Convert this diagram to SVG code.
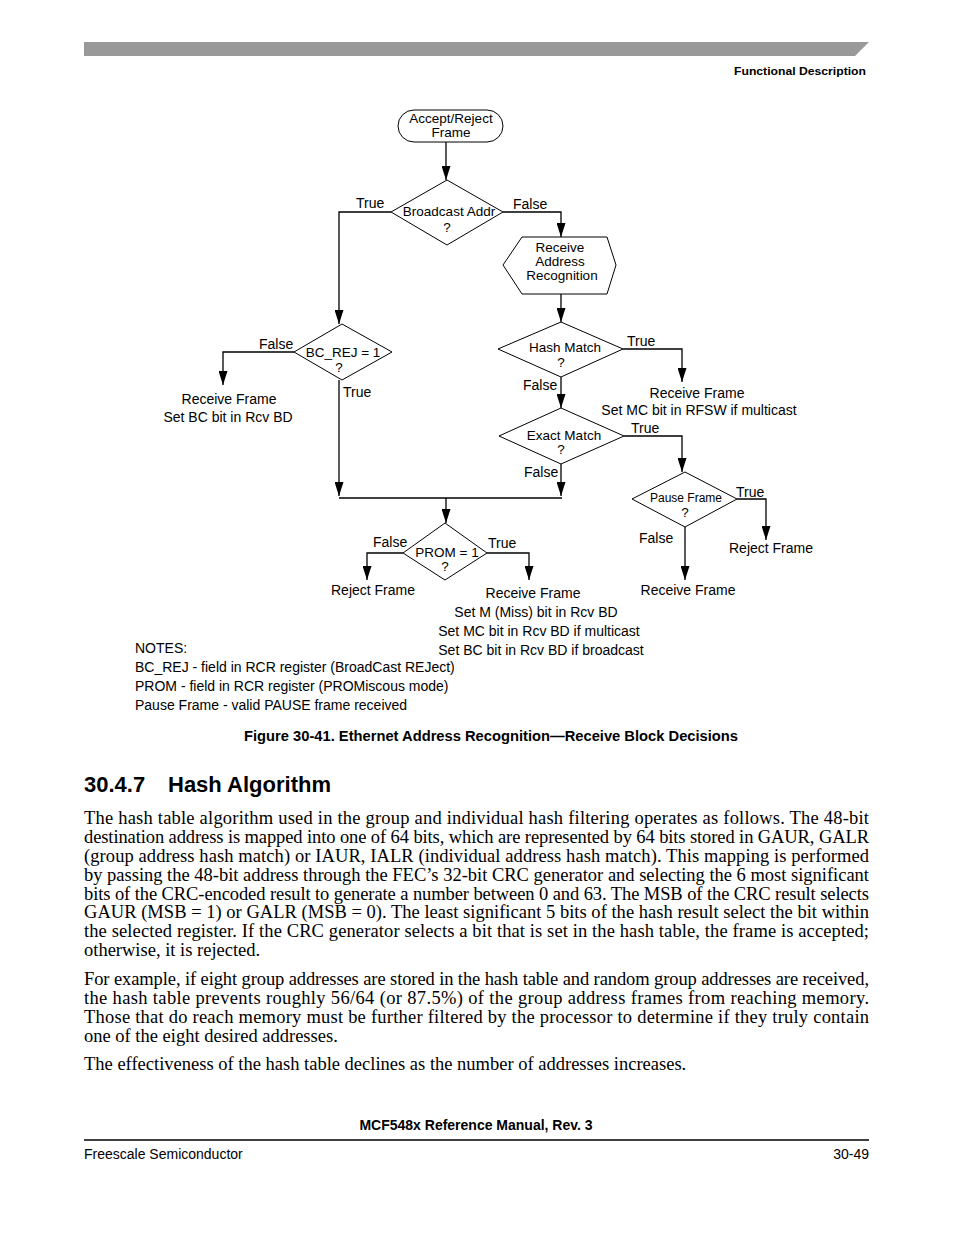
<svg xmlns="http://www.w3.org/2000/svg" width="954" height="1235" viewBox="0 0 954 1235">
<style>
.t{font-family:"Liberation Sans",Arial,sans-serif;font-size:14px;fill:#000}
.c{text-anchor:middle}
.s{font-size:12px}
.d{font-size:13.5px}
.sh{fill:#fff;stroke:#000;stroke-width:1}
.ln{fill:none;stroke:#000;stroke-width:1.3}
.b{font-family:"Liberation Serif","Times New Roman",serif;font-size:18.5px;fill:#000}
.h{font-family:"Liberation Sans",Arial,sans-serif;font-weight:bold;fill:#000}
</style>
<defs>
<marker id="ar" viewBox="0 0 14 9" refX="14" refY="4.5" markerWidth="14" markerHeight="9" markerUnits="userSpaceOnUse" orient="auto">
<path d="M0,0 L14,4.5 L0,9 z" fill="#000"/>
</marker>
</defs>
<rect width="954" height="1235" fill="#fff"/>
<g id="header">
<polygon points="84,42 869,42 855,56 84,56" fill="#999"/>
<text class="h" x="866" y="75" text-anchor="end" font-size="11" textLength="132" lengthAdjust="spacingAndGlyphs">Functional Description</text>
</g>
<g id="connectors">
<line class="ln" x1="446" y1="142" x2="446" y2="180" marker-end="url(#ar)"/>
<polyline class="ln" points="391,212 339,212 339,324" marker-end="url(#ar)"/>
<polyline class="ln" points="503,212 561,212 561,237" marker-end="url(#ar)"/>
<line class="ln" x1="561" y1="294" x2="561" y2="322" marker-end="url(#ar)"/>
<polyline class="ln" points="623,349 682,349 682,382" marker-end="url(#ar)"/>
<line class="ln" x1="561" y1="377" x2="561" y2="408" marker-end="url(#ar)"/>
<polyline class="ln" points="624,436 682,436 682,472" marker-end="url(#ar)"/>
<line class="ln" x1="561" y1="464" x2="561" y2="496" marker-end="url(#ar)"/>
<polyline class="ln" points="294,352 223,352 223,385" marker-end="url(#ar)"/>
<line class="ln" x1="339" y1="380" x2="339" y2="496" marker-end="url(#ar)"/>
<line class="ln" x1="339" y1="498" x2="562" y2="498"/>
<line class="ln" x1="446" y1="498" x2="446" y2="523" marker-end="url(#ar)"/>
<polyline class="ln" points="403,553 367,553 367,580" marker-end="url(#ar)"/>
<polyline class="ln" points="487,553 529,553 529,580" marker-end="url(#ar)"/>
<polyline class="ln" points="737,499 766,499 766,540" marker-end="url(#ar)"/>
<line class="ln" x1="685" y1="527" x2="685" y2="580" marker-end="url(#ar)"/>
</g>
<g id="start">
<rect class="sh" x="398" y="110" width="105" height="32" rx="16"/>
<text class="t c d" x="451" y="123">Accept/Reject</text>
<text class="t c d" x="451" y="137">Frame</text>
</g>
<g id="broadcast">
<polygon class="sh" points="447,180 503,212 447,245 391,212"/>
<text class="t c d" x="449" y="216">Broadcast Addr</text>
<text class="t c d" x="447" y="232">?</text>
<text class="t" x="356" y="208">True</text>
<text class="t" x="513" y="209">False</text>
</g>
<g id="recognition">
<polygon class="sh" points="522,237 607,237 616,265 607,294 522,294 503,265"/>
<text class="t c d" x="560" y="252">Receive</text>
<text class="t c d" x="560" y="266">Address</text>
<text class="t c d" x="562" y="280">Recognition</text>
</g>
<g id="hashmatch">
<polygon class="sh" points="561,322 623,349 561,377 498,349"/>
<text class="t c d" x="565" y="352">Hash Match</text>
<text class="t c d" x="561" y="367">?</text>
<text class="t" x="627" y="346">True</text>
<text class="t" x="523" y="390">False</text>
<text class="t c" x="697" y="398">Receive Frame</text>
<text class="t c" x="699" y="415">Set MC bit in RFSW if multicast</text>
</g>
<g id="exactmatch">
<polygon class="sh" points="561,408 624,436 561,464 499,436"/>
<text class="t c d" x="564" y="439.5">Exact Match</text>
<text class="t c d" x="561" y="454">?</text>
<text class="t" x="631" y="433">True</text>
<text class="t" x="524" y="477">False</text>
</g>
<g id="pause">
<polygon class="sh" points="685,472 737,499 685,527 632,499"/>
<text class="t c s" x="686" y="502">Pause Frame</text>
<text class="t c d" x="685" y="517">?</text>
<text class="t" x="736" y="497">True</text>
<text class="t" x="639" y="543">False</text>
<text class="t c" x="771" y="553">Reject Frame</text>
<text class="t c" x="688" y="595">Receive Frame</text>
</g>
<g id="bcrej">
<polygon class="sh" points="342,324 392,352 342,380 294,352"/>
<text class="t c d" x="343" y="356.5">BC_REJ = 1</text>
<text class="t c d" x="339" y="372">?</text>
<text class="t" x="259" y="349">False</text>
<text class="t" x="343" y="397">True</text>
<text class="t c" x="229" y="404">Receive Frame</text>
<text class="t c" x="228" y="422">Set BC bit in Rcv BD</text>
</g>
<g id="prom">
<polygon class="sh" points="445,523 487,553 445,580 403,553"/>
<text class="t c d" x="447" y="556.5">PROM = 1</text>
<text class="t c d" x="445" y="571">?</text>
<text class="t" x="373" y="547">False</text>
<text class="t" x="488" y="548">True</text>
<text class="t c" x="373" y="595">Reject Frame</text>
<text class="t c" x="533" y="598">Receive Frame</text>
<text class="t c" x="536" y="617">Set M (Miss) bit in Rcv BD</text>
<text class="t c" x="539" y="636">Set MC bit in Rcv BD if multicast</text>
<text class="t c" x="541" y="655">Set BC bit in Rcv BD if broadcast</text>
</g>
<g id="notes">
<text class="t" x="135" y="653">NOTES:</text>
<text class="t" x="135" y="672">BC_REJ - field in RCR register (BroadCast REJect)</text>
<text class="t" x="135" y="691">PROM - field in RCR register (PROMiscous mode)</text>
<text class="t" x="135" y="710">Pause Frame - valid PAUSE frame received</text>
</g>
<g id="caption">
<text class="h" x="491" y="741" font-size="14.5" text-anchor="middle" textLength="494" lengthAdjust="spacingAndGlyphs">Figure 30-41. Ethernet Address Recognition—Receive Block Decisions</text>
<text class="h" x="84" y="792" font-size="22">30.4.7</text>
<text class="h" x="168" y="792" font-size="22">Hash Algorithm</text>
</g>
<g id="body">
<text class="b" x="84" y="824" textLength="785" lengthAdjust="spacing">The hash table algorithm used in the group and individual hash filtering operates as follows. The 48-bit</text>
<text class="b" x="84" y="843" textLength="785" lengthAdjust="spacing">destination address is mapped into one of 64 bits, which are represented by 64 bits stored in GAUR, GALR</text>
<text class="b" x="84" y="862" textLength="785" lengthAdjust="spacing">(group address hash match) or IAUR, IALR (individual address hash match). This mapping is performed</text>
<text class="b" x="84" y="881" textLength="785" lengthAdjust="spacing">by passing the 48-bit address through the FEC’s 32-bit CRC generator and selecting the 6 most significant</text>
<text class="b" x="84" y="900" textLength="785" lengthAdjust="spacing">bits of the CRC-encoded result to generate a number between 0 and 63. The MSB of the CRC result selects</text>
<text class="b" x="84" y="918" textLength="785" lengthAdjust="spacing">GAUR (MSB = 1) or GALR (MSB = 0). The least significant 5 bits of the hash result select the bit within</text>
<text class="b" x="84" y="937" textLength="785" lengthAdjust="spacing">the selected register. If the CRC generator selects a bit that is set in the hash table, the frame is accepted;</text>
<text class="b" x="84" y="956">otherwise, it is rejected.</text>
<text class="b" x="84" y="985" textLength="785" lengthAdjust="spacing">For example, if eight group addresses are stored in the hash table and random group addresses are received,</text>
<text class="b" x="84" y="1004" textLength="785" lengthAdjust="spacing">the hash table prevents roughly 56/64 (or 87.5%) of the group address frames from reaching memory.</text>
<text class="b" x="84" y="1023" textLength="785" lengthAdjust="spacing">Those that do reach memory must be further filtered by the processor to determine if they truly contain</text>
<text class="b" x="84" y="1042">one of the eight desired addresses.</text>
<text class="b" x="84" y="1070">The effectiveness of the hash table declines as the number of addresses increases.</text>
</g>
<g id="footer">
<text class="h" x="476" y="1130" font-size="14" text-anchor="middle">MCF548x Reference Manual, Rev. 3</text>
<line x1="84" y1="1140" x2="869" y2="1140" stroke="#000" stroke-width="1.5"/>
<text class="t" x="84" y="1159" font-size="14.5">Freescale Semiconductor</text>
<text class="t" x="869" y="1159" font-size="14.5" text-anchor="end">30-49</text>
</g>
</svg>
